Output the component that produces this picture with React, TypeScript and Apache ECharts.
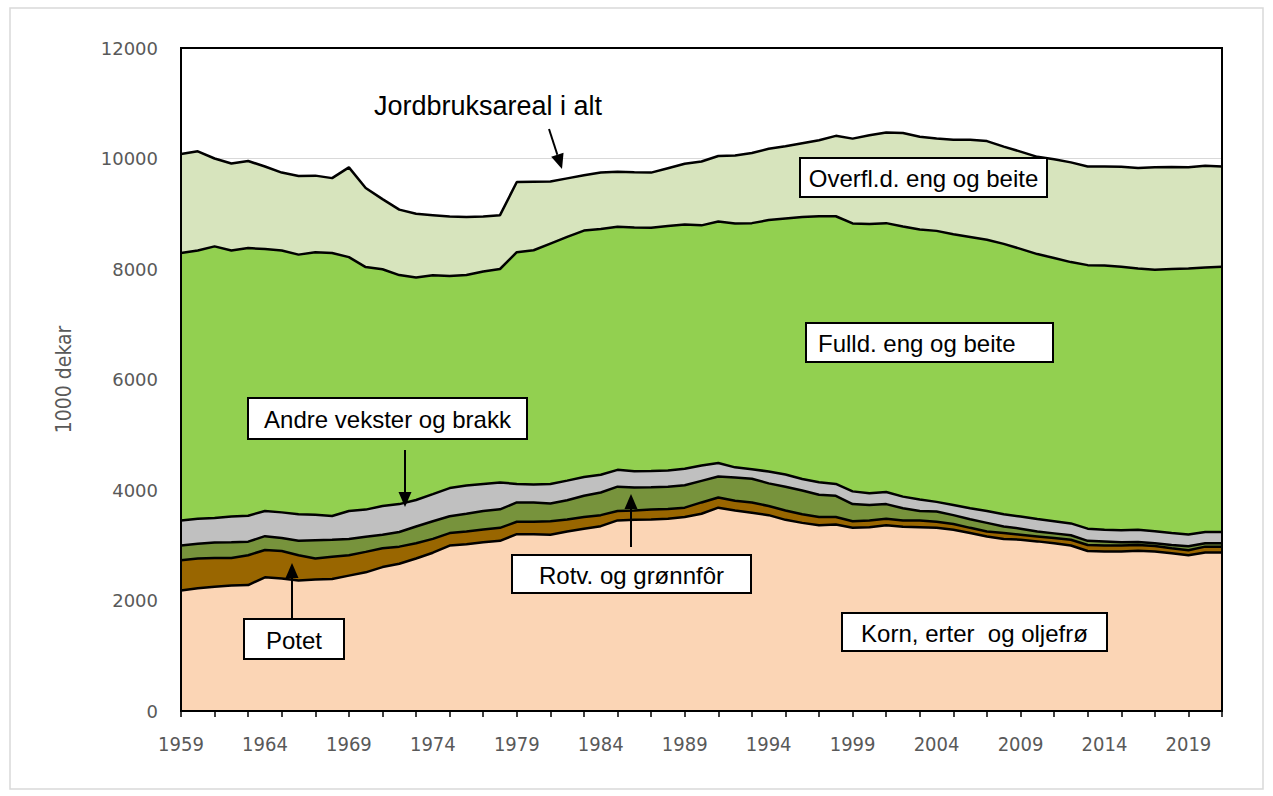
import React, { useEffect, useRef } from "react";
import * as echarts from "echarts";

const years: string[] = Array.from({ length: 63 }, (_, i) => String(1959 + i));

const korn = [2180,2220,2250,2270,2280,2420,2400,2360,2380,2390,2450,2510,2605,2665,2760,2865,2995,3020,3055,3080,3200,3200,3190,3250,3300,3345,3450,3460,3465,3480,3510,3570,3680,3630,3590,3545,3460,3405,3360,3375,3315,3325,3360,3335,3325,3315,3280,3220,3160,3115,3100,3070,3035,2995,2895,2885,2885,2900,2885,2855,2820,2870,2870];
const potet = [550,540,520,500,540,495,495,460,380,400,370,370,340,310,275,250,225,230,230,235,225,225,245,215,210,200,170,170,180,175,170,205,185,175,185,165,170,155,150,135,120,125,120,115,125,110,105,95,90,105,90,90,95,105,110,110,110,105,100,90,90,105,105];
const rotv = [265,265,280,285,245,250,235,260,330,310,295,275,245,265,305,320,305,320,335,335,350,350,320,350,385,410,440,415,405,405,405,390,380,420,430,410,430,430,405,385,310,280,265,220,170,185,160,155,155,120,110,90,85,80,75,75,60,55,50,60,70,60,60];
const andre = [455,455,445,465,470,455,465,480,460,430,505,490,520,505,480,490,510,510,490,485,335,325,355,355,340,320,305,295,295,295,300,280,245,185,170,215,220,210,225,215,230,210,220,210,210,175,185,200,215,220,220,225,220,215,220,210,215,220,220,215,215,205,205];
const fulld = [4840,4855,4915,4815,4845,4740,4740,4700,4755,4760,4595,4390,4285,4145,4025,3960,3840,3810,3845,3865,4195,4240,4350,4410,4460,4450,4400,4410,4400,4425,4420,4345,4370,4415,4455,4550,4635,4740,4815,4845,4850,4875,4865,4890,4885,4905,4900,4910,4910,4895,4845,4795,4765,4730,4770,4785,4770,4730,4730,4780,4815,4785,4800];
const overfl = [1790,1795,1590,1575,1575,1495,1410,1425,1385,1355,1625,1430,1270,1185,1155,1090,1075,1050,995,975,1270,1240,1125,1060,1000,1020,995,1000,1000,1045,1100,1155,1185,1230,1270,1290,1305,1335,1375,1455,1535,1605,1640,1690,1680,1670,1710,1760,1785,1760,1760,1760,1785,1805,1785,1790,1810,1820,1855,1845,1830,1845,1815];

const layerNames = ["Korn, erter og oljefrø", "Potet", "Rotv. og grønnfôr", "Andre vekster og brakk", "Fulld. eng og beite", "Overfl.d. eng og beite"];
const layerData = [korn, potet, rotv, andre, fulld, overfl];
const layerColors = ["#FBD5B5", "#996600", "#77933C", "#C0C0C0", "#92D050", "#D7E4BD"];

const yTitle = "1000 dekar";
const totalLabel = "Jordbruksareal i alt";

const FONT = '"Liberation Sans", Arial, sans-serif';
const AXFONT = '"DejaVu Sans", sans-serif';
const CONDFONT = '"DejaVu Sans Condensed", "DejaVu Sans", sans-serif';

function arrow(x1: number, y1: number, x2: number, y2: number) {
  const dx = x2 - x1, dy = y2 - y1;
  const L = Math.hypot(dx, dy);
  const ux = dx / L, uy = dy / L;
  const hl = 15, hw = 6.5;
  const bx = x2 - ux * hl, by = y2 - uy * hl;
  return [
    { type: "line", z: 100, shape: { x1, y1, x2: bx, y2: by }, style: { stroke: "#000", lineWidth: 2 } },
    {
      type: "polygon", z: 100,
      shape: { points: [[x2, y2], [bx - uy * hw, by + ux * hw], [bx + uy * hw, by - ux * hw]] },
      style: { fill: "#000" },
    },
  ];
}

function box(x: number, y: number, w: number, h: number, text: string, tx?: number) {
  return [
    { type: "rect", z: 100, shape: { x, y, width: w, height: h }, style: { fill: "#fff", stroke: "#000", lineWidth: 2 } },
    {
      type: "text", z: 101,
      style: {
        text, x: tx !== undefined ? tx : x + w / 2, y: y + h / 2 + 1,
        font: `24px ${FONT}`, fill: "#000",
        align: tx !== undefined ? "left" : "center", verticalAlign: "middle",
      },
    },
  ];
}

export default function App() {
  const ref = useRef<HTMLDivElement>(null);
  useEffect(() => {
    if (!ref.current) return;
    const chart = echarts.init(ref.current, null, { renderer: "svg" });
    const areaSeries = layerData.map((d, i) => ({
      name: layerNames[i],
      type: "line",
      stack: "areas",
      data: d,
      symbol: "none",
      lineStyle: { width: 0 },
      areaStyle: { color: layerColors[i], opacity: 1 },
      z: 2,
      silent: true,
    }));
    const lineSeries = layerData.map((d, i) => ({
      name: layerNames[i] + " linje",
      type: "line",
      stack: "lines",
      data: d,
      symbol: "none",
      lineStyle: { width: 2.5, color: "#000" },
      z: 3,
      silent: true,
    }));
    const graphic: any[] = [
      { type: "rect", z: 0, shape: { x: 10, y: 8, width: 1253, height: 781 }, style: { fill: "none", stroke: "#d9d9d9", lineWidth: 1.5 } },
      { type: "rect", z: 99, shape: { x: 181, y: 48, width: 1041, height: 663 }, style: { fill: "none", stroke: "#000", lineWidth: 2 } },
      { type: "text", z: 101, style: { text: totalLabel, x: 488, y: 106, font: `27px ${FONT}`, fill: "#000", align: "center", verticalAlign: "middle" } },
      ...arrow(549, 129, 562, 169),
      ...box(800, 158, 247, 39, layerNames[5]),
      ...box(806, 323, 247, 39, layerNames[4], 818),
      ...box(248, 398, 279, 41, layerNames[3]),
      ...arrow(405, 450, 405, 507),
      ...box(244, 619, 100, 40, layerNames[1]),
      ...arrow(292, 619, 292, 563),
      ...box(512, 555, 239, 38, layerNames[2]),
      ...arrow(631, 547, 631, 494),
      ...box(842, 613, 265, 38, "Korn, erter  og oljefrø"),
    ];
    chart.setOption({
      animation: false,
      backgroundColor: "#fff",
      grid: { left: 181, right: 51, top: 48, bottom: 85 },
      xAxis: {
        type: "category",
        data: years,
        boundaryGap: false,
        axisLine: { lineStyle: { color: "#000", width: 2 } },
        axisTick: { show: true, interval: 1, length: 6, lineStyle: { color: "#000", width: 1.5 } },
        axisLabel: { interval: 4, color: "#595959", fontSize: 20, fontFamily: CONDFONT, margin: 23 },
        splitLine: { show: false },
      },
      yAxis: {
        type: "value",
        min: 0,
        max: 12000,
        interval: 2000,
        name: yTitle,
        nameLocation: "middle",
        nameGap: 107,
        nameTextStyle: { color: "#595959", fontSize: 21, fontFamily: CONDFONT },
        axisLine: { show: true, lineStyle: { color: "#000", width: 2 } },
        axisTick: { show: false },
        axisLabel: { color: "#595959", fontSize: 18, fontFamily: AXFONT, margin: 23, formatter: (v: number) => String(v) },
        splitLine: { lineStyle: { color: "#d9d9d9", width: 1 } },
      },
      series: [...areaSeries, ...lineSeries],
      graphic,
    });
    return () => chart.dispose();
  }, []);
  return <div ref={ref} style={{ position: "absolute", left: 0, top: 0, width: 1273, height: 796 }} />;
}
